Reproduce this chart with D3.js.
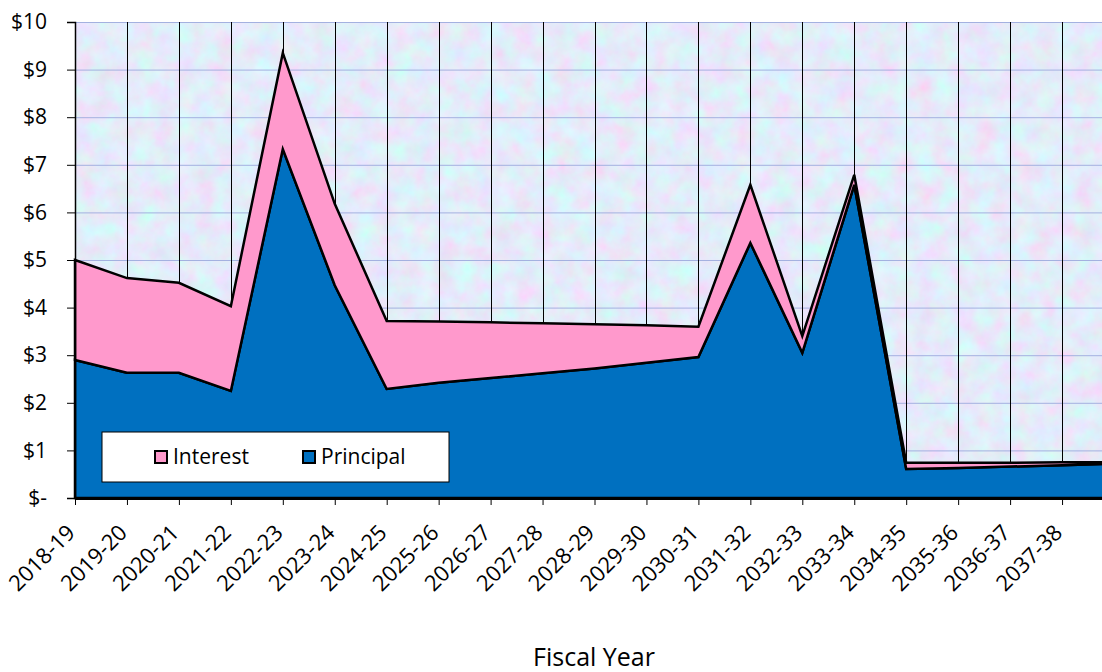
<!DOCTYPE html>
<html>
<head>
<meta charset="utf-8">
<script src="https://cdn.jsdelivr.net/npm/d3@7"></script>
<style>
  body { margin: 0; background: #fff; }
  svg text { font-family: "Open Sans", Lato, sans-serif; fill: #000; }
</style>
</head>
<body>
<svg id="chart" width="1102" height="672"></svg>
<script>
// fiscal years (last one only partly in view, no label)
var years = ["2018-19","2019-20","2020-21","2021-22","2022-23","2023-24","2024-25",
             "2025-26","2026-27","2027-28","2028-29","2029-30","2030-31","2031-32",
             "2032-33","2033-34","2034-35","2035-36","2036-37","2037-38","2038-39"];
var yearLabels = years.slice(0, 20);

// millions of dollars
var principal = [2.90, 2.63, 2.63, 2.25, 7.33, 4.47, 2.29, 2.42, 2.52, 2.62, 2.72, 2.84, 2.96,
                 5.36, 3.05, 6.58, 0.61, 0.63, 0.66, 0.69, 0.72];
var interest  = [2.10, 1.99, 1.89, 1.78, 2.02, 1.71, 1.43, 1.29, 1.17, 1.05, 0.93, 0.79, 0.64,
                 1.22, 0.35, 0.21, 0.13, 0.11, 0.08, 0.06, 0.03];

var yTicks = [0, 1, 2, 3, 4, 5, 6, 7, 8, 9, 10];
var seriesNames = ["Interest", "Principal"];
var colors = {Interest: "#ff99cc", Principal: "#0070c0"};

var svg = d3.select("#chart");
var margin = {top: 22, left: 75, bottom: 174};
var height = 672 - margin.top - margin.bottom;   // 476
var step = 51.95;

var x = d3.scalePoint()
    .domain(years)
    .range([0, step * (years.length - 1)]);

var y = d3.scaleLinear()
    .domain([0, 10])
    .range([height, 0]);

// pastel mottled texture for the plot area
var defs = svg.append("defs");
var filt = defs.append("filter").attr("id", "tex")
    .attr("x", 0).attr("y", 0).attr("width", "100%").attr("height", "100%");
filt.append("feTurbulence")
    .attr("type", "fractalNoise")
    .attr("baseFrequency", "0.05")
    .attr("numOctaves", 4)
    .attr("seed", 7);
filt.append("feColorMatrix")
    .attr("type", "matrix")
    .attr("values", "0.35 -0.2 0 0 0.70  -0.2 0.35 0 0 0.76  0 0 0.2 0 0.85  0 0 0 0 1");

var g = svg.append("g")
    .attr("transform", "translate(" + margin.left + "," + margin.top + ")");

var plotW = 1102 - margin.left;

g.append("rect")
    .attr("width", plotW).attr("height", height)
    .attr("filter", "url(#tex)");

// horizontal grid
g.append("g").selectAll("line")
    .data(yTicks.slice(1))
    .enter().append("line")
    .attr("x1", 0).attr("x2", plotW)
    .attr("y1", function(d) { return y(d) + 0.5; })
    .attr("y2", function(d) { return y(d) + 0.5; })
    .attr("stroke", "#a4b1e0")
    .attr("stroke-width", 1);

// vertical grid
g.append("g").selectAll("line")
    .data(years.slice(1))
    .enter().append("line")
    .attr("x1", function(d) { return Math.round(x(d)) + 0.5; })
    .attr("x2", function(d) { return Math.round(x(d)) + 0.5; })
    .attr("y1", 0).attr("y2", height)
    .attr("stroke", "#000")
    .attr("stroke-width", 1);

var stackData = years.map(function(d, i) {
    return {year: d, Principal: principal[i], Interest: interest[i]};
});
var layers = d3.stack().keys(["Principal", "Interest"])(stackData);

var area = d3.area()
    .x(function(d) { return x(d.data.year); })
    .y0(function(d) { return y(d[0]); })
    .y1(function(d) { return y(d[1]); });

g.selectAll(".layer")
    .data(layers)
    .enter().append("path")
    .attr("class", "layer")
    .attr("d", area)
    .attr("fill", function(d) { return colors[d.key]; })
    .attr("stroke", "#000")
    .attr("stroke-width", 2.5)
    .attr("stroke-linejoin", "miter");

// y axis
var yAxis = g.append("g")
    .call(d3.axisLeft(y)
        .tickValues(yTicks)
        .tickSize(8)
        .tickPadding(20)
        .tickFormat(function(d) { return d === 0 ? "$-" : "$" + d; }));
yAxis.select(".domain").attr("stroke", "#000").attr("stroke-width", 1.5);
yAxis.selectAll("text").style("font-size", "21px");

// x axis
var xAxis = g.append("g")
    .attr("transform", "translate(0," + height + ")")
    .call(d3.axisBottom(x)
        .tickValues(yearLabels)
        .tickSize(7)
        .tickSizeOuter(0));
xAxis.select(".domain").attr("stroke", "#000").attr("stroke-width", 3);
xAxis.selectAll("text")
    .style("font-size", "22px")
    .attr("text-anchor", "end")
    .attr("transform", "translate(1,36) rotate(-45)")
    .attr("x", 0).attr("y", 0).attr("dy", 0);

// legend
var legend = g.append("g").attr("transform", "translate(27,410)");
legend.append("rect")
    .attr("width", 347).attr("height", 50)
    .attr("fill", "#fff")
    .attr("stroke", "#000").attr("stroke-width", 1);
var items = legend.selectAll(".item")
    .data(seriesNames)
    .enter().append("g")
    .attr("class", "item")
    .attr("transform", function(d, i) { return "translate(" + (53 + i * 148) + ",19)"; });
items.append("rect")
    .attr("width", 12).attr("height", 12)
    .attr("fill", function(d) { return colors[d]; })
    .attr("stroke", "#000").attr("stroke-width", 2);
items.append("text")
    .attr("x", 18).attr("y", 6).attr("dy", "0.35em")
    .style("font-size", "21px")
    .text(function(d) { return d; });

// axis title
svg.append("text")
    .attr("x", 594).attr("y", 666)
    .attr("text-anchor", "middle")
    .style("font-size", "25px")
    .text("Fiscal Year");
</script>
</body>
</html>
